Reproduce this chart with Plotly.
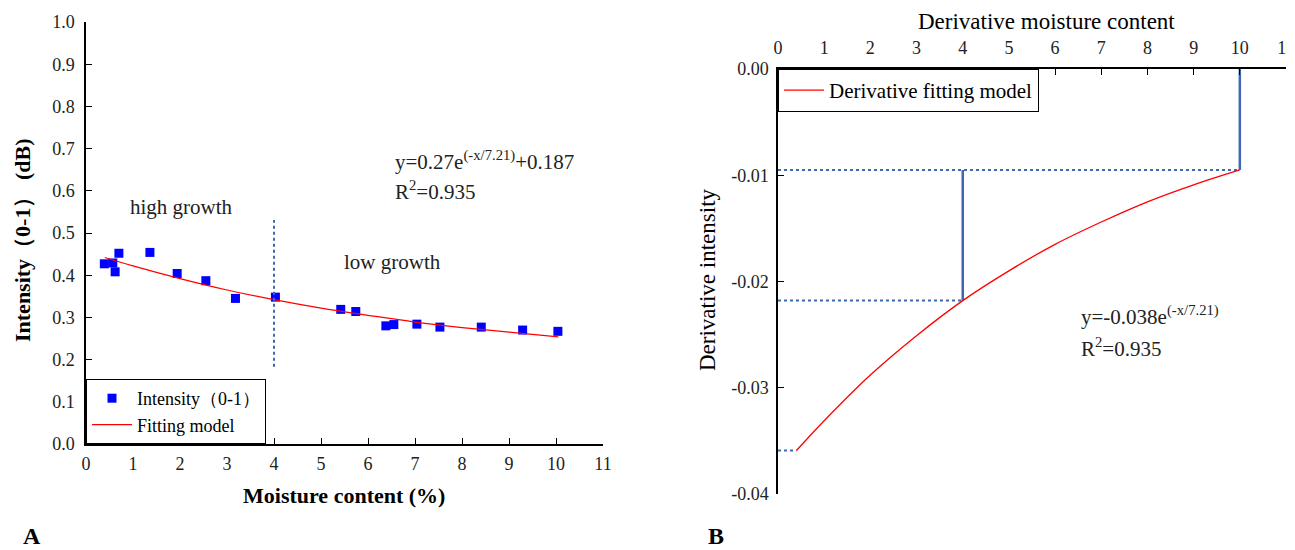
import plotly.graph_objects as go

# ---------------- data ----------------
moisture = [0.39, 0.57, 0.62, 0.70, 1.36, 1.94, 2.55, 3.18, 4.03,
            5.42, 5.74, 6.38, 6.55, 7.04, 7.53, 8.41, 9.29, 10.04]
intensity = [0.427, 0.429, 0.408, 0.452, 0.454, 0.404, 0.387, 0.345, 0.348,
             0.319, 0.314, 0.280, 0.283, 0.284, 0.277, 0.277, 0.270, 0.267]

fit_x = [0.4, 1, 2, 3, 4, 5, 6, 7, 8, 9, 10.05]
fit_y = [0.442, 0.422, 0.392, 0.365, 0.342, 0.322, 0.305, 0.289, 0.276, 0.265, 0.254]

deriv_x = [0.4, 1, 2, 3, 4, 5, 6, 7, 8, 9, 10]
deriv_y = [-0.0359, -0.0331, -0.0288, -0.0251, -0.0218, -0.0190, -0.0165,
           -0.0144, -0.0125, -0.0109, -0.0095]

split_x = [4, 4]
split_y = [0.183, 0.531]

# guide lines in panel B
guide_levels = [-0.0095, -0.0218, -0.0359]
guide_ends = [10, 4, 0.4]
vert1_x, vert1_y = [10, 10], [0.0, -0.0095]
vert2_x, vert2_y = [4, 4], [-0.0095, -0.0218]

x_ticks = list(range(0, 12))
yA_ticks = [i / 10 for i in range(0, 11)]
yB_ticks = [0.0, -0.01, -0.02, -0.03, -0.04]
yB_text = ["0.00", "-0.01", "-0.02", "-0.03", "-0.04"]

# ---------------- figure ----------------
SERIF = "Liberation Serif, Times New Roman, serif"
BLUE_GUIDE = "#4068B0"
OFF = 8                      # page body margin offset
W, H = 1295 - OFF, 550 - OFF


def px(x):
    return (x - OFF) / W


def py(y):
    return 1 - (y - OFF) / H


fig = go.Figure()

fig.add_trace(go.Scatter(
    x=moisture, y=intensity, mode="markers", name="Intensity（0-1）",
    marker=dict(symbol="square", size=9, color="#0000FF"),
    xaxis="x", yaxis="y", legend="legend"))
fig.add_trace(go.Scatter(
    x=fit_x, y=fit_y, mode="lines", name="Fitting model",
    line=dict(color="#FF0000", width=1.2, shape="spline"),
    xaxis="x", yaxis="y", legend="legend"))
fig.add_trace(go.Scatter(
    x=split_x, y=split_y, mode="lines", showlegend=False,
    line=dict(color=BLUE_GUIDE, width=2, dash="dot"),
    xaxis="x", yaxis="y"))

for lvl, end in zip(guide_levels, guide_ends):
    fig.add_trace(go.Scatter(
        x=[0, end], y=[lvl, lvl], mode="lines", showlegend=False,
        line=dict(color=BLUE_GUIDE, width=2, dash="dot"),
        xaxis="x2", yaxis="y2"))
for vx, vy in [(vert1_x, vert1_y), (vert2_x, vert2_y)]:
    fig.add_trace(go.Scatter(
        x=vx, y=vy, mode="lines", showlegend=False,
        line=dict(color=BLUE_GUIDE, width=2.5),
        xaxis="x2", yaxis="y2"))

fig.add_trace(go.Scatter(
    x=deriv_x, y=deriv_y, mode="lines", name="Derivative fitting model",
    line=dict(color="#FF0000", width=1.3, shape="spline"),
    xaxis="x2", yaxis="y2", legend="legend2"))

axis_common = dict(showline=True, linecolor="black", linewidth=1.5,
                   ticks="inside", ticklen=6, tickcolor="black", tickwidth=1.2,
                   showgrid=False, zeroline=False, automargin=False,
                   ticklabeloverflow="allow",
                   tickfont=dict(family=SERIF, size=18, color="#222"))

fig.update_layout(
    width=W, height=H,
    margin=dict(l=0, r=0, t=0, b=0, autoexpand=False),
    paper_bgcolor="white", plot_bgcolor="white",
    font=dict(family=SERIF, color="black"),
    xaxis=dict(domain=[px(86), px(603)], range=[0, 11], tickvals=x_ticks,
               anchor="y", ticklabelstandoff=3, **axis_common),
    yaxis=dict(domain=[py(444), py(22)], range=[0, 1], tickvals=yA_ticks,
               tickformat=".1f", anchor="x", ticklabelstandoff=6, **axis_common),
    xaxis2=dict(domain=[px(778), px(1286)], range=[0, 11], tickvals=x_ticks,
                anchor="y2", side="top", ticklabelstandoff=6, **axis_common),
    yaxis2=dict(domain=[py(494), py(69)], range=[-0.04, 0], tickvals=yB_ticks,
                ticktext=yB_text, anchor="x2", ticklabelstandoff=4, **axis_common),
    legend=dict(x=px(86), y=py(444), xanchor="left", yanchor="bottom",
                bgcolor="white", bordercolor="black", borderwidth=1,
                font=dict(family=SERIF, size=18), tracegroupgap=0,
                itemwidth=40),
    legend2=dict(x=px(778), y=py(69), xanchor="left", yanchor="top",
                 bgcolor="white", bordercolor="black", borderwidth=1,
                 font=dict(family=SERIF, size=21), itemwidth=40),
)

ann_font = dict(family=SERIF, size=21, color="#222")
title_font = dict(family=SERIF, size=22, color="black")


def paper_ann(text, x, y, font, angle=0):
    return dict(text=text, x=px(x), y=py(y), xref="paper", yref="paper",
                xanchor="center", yanchor="middle", showarrow=False,
                textangle=angle, font=font)


annotations = [
    dict(text="high growth", x=2.04, y=0.562, xref="x", yref="y",
         xanchor="center", yanchor="middle", showarrow=False, font=ann_font),
    dict(text="low growth", x=6.53, y=0.431, xref="x", yref="y",
         xanchor="center", yanchor="middle", showarrow=False, font=ann_font),
    dict(text="y=0.27e<sup>(-x/7.21)</sup>+0.187", x=6.53, y=0.672, xref="x", yref="y",
         xanchor="left", yanchor="middle", showarrow=False, font=ann_font),
    dict(text="R<sup>2</sup>=0.935", x=6.53, y=0.6, xref="x", yref="y",
         xanchor="left", yanchor="middle", showarrow=False, font=ann_font),
    dict(text="y=-0.038e<sup>(-x/7.21)</sup>", x=6.52, y=-0.0232, xref="x2", yref="y2",
         xanchor="left", yanchor="middle", showarrow=False, font=ann_font),
    dict(text="R<sup>2</sup>=0.935", x=6.52, y=-0.0262, xref="x2", yref="y2",
         xanchor="left", yanchor="middle", showarrow=False, font=ann_font),
    # axis titles
    paper_ann("<b>Moisture content (%)</b>", 344, 495, title_font),
    paper_ann("<b>Intensity（0-1） (dB)</b>", 22, 240, title_font, -90),
    paper_ann("Derivative moisture content", 1046, 22,
              dict(family=SERIF, size=23, color="black")),
    paper_ann("Derivative intensity", 707, 280,
              dict(family=SERIF, size=23, color="black"), -90),
    # panel letters
    paper_ann("<b>A</b>", 32, 536, dict(family=SERIF, size=24)),
    paper_ann("<b>B</b>", 716, 536, dict(family=SERIF, size=24)),
]
fig.update_layout(annotations=annotations)

fig.write_html("out.html")
